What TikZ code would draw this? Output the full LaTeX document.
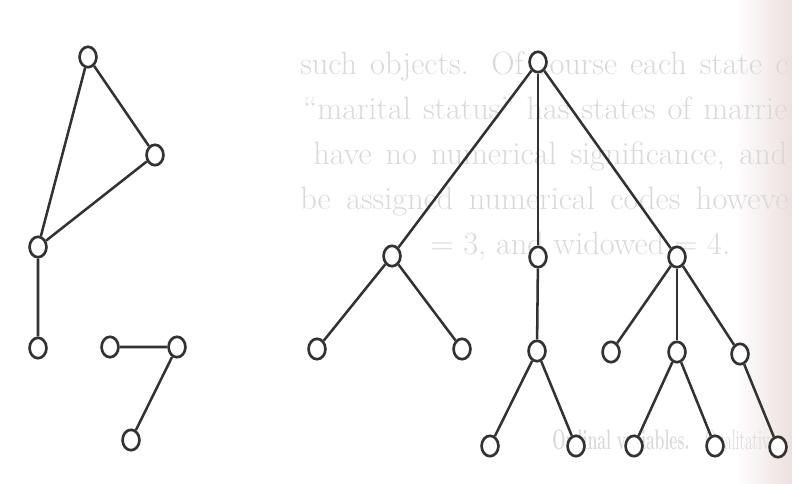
\documentclass[tikz,border=0pt]{standalone}
\usetikzlibrary{shapes.geometric}
\definecolor{edgegray}{RGB}{50,50,50}
\definecolor{pageedge}{RGB}{236,224,222}
\begin{document}
\begin{tikzpicture}[x=0.025cm, y=-0.025cm,
    vertex/.style={ellipse, draw=edgegray, fill=white, line width=1.9pt,
      minimum width=12pt, minimum height=14.5pt, inner sep=0pt},
    edge/.style={draw=edgegray, line width=1.8pt},
    ghost/.style={text=black!15, font=\fontsize{23}{27}\selectfont,
      anchor=base west, inner sep=0pt}]

  \useasboundingbox (0,0) rectangle (792,483);
  \clip (0,0) rectangle (792,483);
  \shade[left color=white, right color=pageedge] (735,0) rectangle (792,483);

  % faint text from the page
  \node[ghost] (t1) at (300,74)  {\makebox[12.2cm][s]{such objects.  Of course each state c}};
  \node[ghost] (t2) at (303,119) {\makebox[12.1cm][s]{``marital status'' has states of marrie}};
  \node[ghost] (t3) at (313,164) {\makebox[11.85cm][s]{have no numerical significance, and}};
  \node[ghost] (t4) at (300,209) {\makebox[12.2cm][s]{be assigned numerical codes howeve}};
  \node[ghost] (t5) at (430,254) {= 3, and widowed = 4.};
  \node[ghost] (t6) at (552,449)
    {\scalebox{0.56}[1]{\fontsize{20}{24}\selectfont\textbf{Ordinal variables.}\quad Qualitativ}};

  % triangle with a tail
  \node[vertex] (a) at (88,57)  {};
  \node[vertex] (b) at (155,155) {};
  \node[vertex] (c) at (38,247) {};
  \node[vertex] (d) at (38,348) {};
  \draw[edge] (a) -- (b) (a) -- (c) (b) -- (c) (c) -- (d);

  % path of three
  \node[vertex] (e) at (110,347) {};
  \node[vertex] (f) at (177,347) {};
  \node[vertex] (g) at (131,440) {};
  \draw[edge] (e) -- (f) (f) -- (g);

  % tree
  \node[vertex] (root) at (538,62) {};
  \node[vertex] (l) at (392,256) {};
  \node[vertex] (m) at (538,257) {};
  \node[vertex] (r) at (677,257) {};
  \node[vertex] (ll) at (317,349) {};
  \node[vertex] (lr) at (462,349) {};
  \node[vertex] (mm) at (537,351) {};
  \node[vertex] (mml) at (490,446) {};
  \node[vertex] (mmr) at (576,446) {};
  \node[vertex] (rl) at (611,352) {};
  \node[vertex] (rm) at (677,352) {};
  \node[vertex] (rr) at (740,354) {};
  \node[vertex] (rml) at (634,446) {};
  \node[vertex] (rmr) at (715,446) {};
  \node[vertex] (rrr) at (778,447) {};
  \foreach \u/\v in {root/l, root/m, root/r, l/ll, l/lr, m/mm, mm/mml, mm/mmr,
      r/rl, r/rm, r/rr, rm/rml, rm/rmr, rr/rrr}
    \draw[edge] (\u) -- (\v);
\end{tikzpicture}
\end{document}
